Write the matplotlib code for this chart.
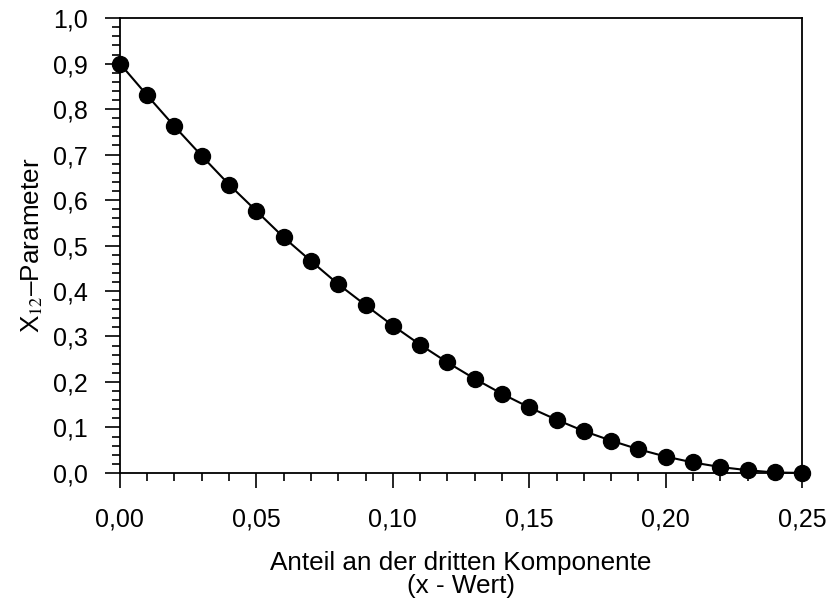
import matplotlib
matplotlib.use("Agg")
import matplotlib.pyplot as plt
from matplotlib.ticker import MultipleLocator, FuncFormatter

plt.rcParams['font.family'] = ['Liberation Sans', 'DejaVu Sans']
plt.rcParams['mathtext.fontset'] = 'stix'

x_values = [0.00, 0.01, 0.02, 0.03, 0.04, 0.05, 0.06, 0.07, 0.08, 0.09,
            0.10, 0.11, 0.12, 0.13, 0.14, 0.15, 0.16, 0.17, 0.18, 0.19,
            0.20, 0.21, 0.22, 0.23, 0.24, 0.25]
x12_values = [0.900, 0.830, 0.762, 0.697, 0.634, 0.576, 0.518, 0.466, 0.415, 0.369,
              0.324, 0.282, 0.243, 0.207, 0.174, 0.144, 0.117, 0.092, 0.071, 0.052,
              0.036, 0.023, 0.013, 0.006, 0.001, 0.000]

x_label = "Anteil an der dritten Komponente\n(x - Wert)"
y_label = r"X$_{\mathrm{12}}$–Parameter"

fig = plt.figure(figsize=(8.27, 6.04), dpi=100)
ax = fig.add_axes([0.145, 0.217, 0.825, 0.753])

ax.plot(x_values, x12_values, color='black', lw=1.5, marker='o',
        markersize=11.5, markerfacecolor='black', markeredgecolor='black',
        clip_on=False, zorder=3)

ax.set_xlim(0, 0.25)
ax.set_ylim(0, 1.0)

ax.xaxis.set_major_locator(MultipleLocator(0.05))
ax.xaxis.set_minor_locator(MultipleLocator(0.01))
ax.yaxis.set_major_locator(MultipleLocator(0.1))
ax.yaxis.set_minor_locator(MultipleLocator(0.02))

ax.xaxis.set_major_formatter(FuncFormatter(lambda v, p: f"{v:.2f}".replace('.', ',')))
ax.yaxis.set_major_formatter(FuncFormatter(lambda v, p: f"{v:.1f}".replace('.', ',')))

ax.tick_params(axis='both', which='major', direction='out', length=11, width=1.2,
               labelsize=18, color='black', top=False, right=False)
ax.tick_params(axis='both', which='minor', direction='out', length=6, width=1.2,
               top=False, right=False)
ax.tick_params(axis='x', which='major', pad=14)
ax.tick_params(axis='y', which='major', pad=12)

for s in ax.spines.values():
    s.set_linewidth(1.3)
    s.set_color('black')

ax.set_xlabel(x_label, fontsize=18.8, labelpad=14, linespacing=0.95)
ax.set_ylabel(y_label, fontsize=18.8, labelpad=6)

fig.savefig("out.png", dpi=100)
